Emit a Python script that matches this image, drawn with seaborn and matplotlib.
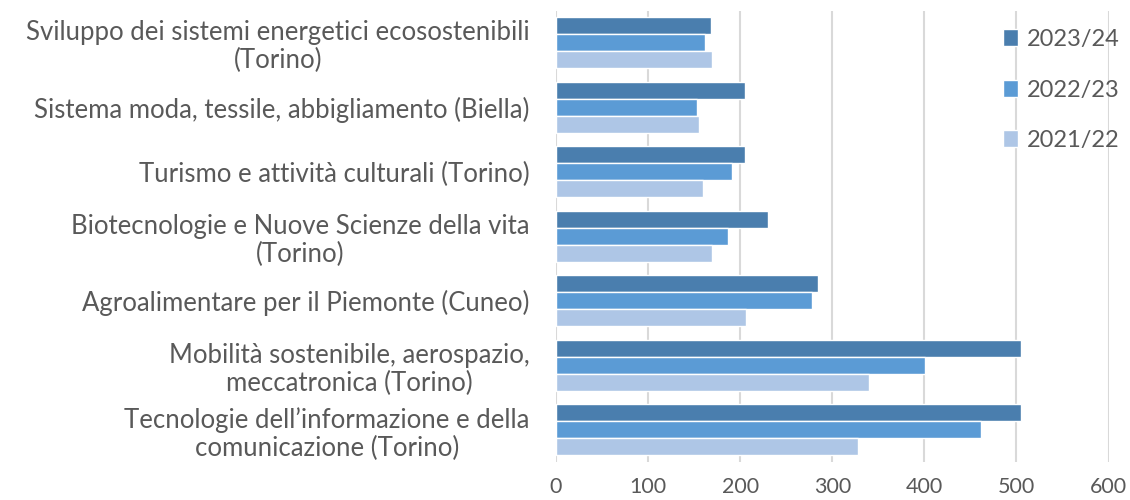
import numpy as np
import pandas as pd
import matplotlib
matplotlib.use("Agg")
import matplotlib.pyplot as plt
import seaborn as sns

# ======================= DATA ======================
categories = [
    "Sviluppo dei sistemi energetici ecosostenibili\n(Torino)",
    "Sistema moda, tessile, abbigliamento (Biella)",
    "Turismo e attività culturali (Torino)",
    "Biotecnologie e Nuove Scienze della vita\n(Torino)",
    "Agroalimentare per il Piemonte (Cuneo)",
    "Mobilità sostenibile, aerospazio,\nmeccatronica (Torino)",
    "Tecnologie dell\u2019informazione e della\ncomunicazione (Torino)",
]
years = ["2023/24", "2022/23", "2021/22"]
val_2023_24 = [168, 205, 205, 230, 285, 505, 505]
val_2022_23 = [162, 153, 191, 187, 278, 401, 461]
val_2021_22 = [169, 155, 160, 169, 206, 340, 328]
colors = ["#4a7eae", "#5b9bd5", "#aec6e6"]

df = pd.DataFrame({
    "Categoria": categories * 3,
    "Anno": np.repeat(years, len(categories)),
    "Valore": val_2023_24 + val_2022_23 + val_2021_22,
})

# ======================= PLOT ======================
sns.set_style("white")
plt.rcParams["font.family"] = ["Lato", "DejaVu Sans"]
text_col = "#595959"

fig = plt.figure(figsize=(11.3, 5), dpi=100)
ax = fig.add_axes([0.492, 0.076, 0.489, 0.903])

sns.barplot(data=df, y="Categoria", x="Valore", hue="Anno",
            hue_order=years, order=categories, palette=colors,
            orient="h", width=0.79, saturation=1, ax=ax, legend=True)

ax.set_xlim(0, 600)
ax.set_xticks(range(0, 601, 100))
ax.set_xlabel("")
ax.set_ylabel("")
ax.xaxis.grid(True, color="#d9d9d9", linewidth=1.5)
ax.set_axisbelow(True)
for s in ax.spines.values():
    s.set_visible(False)
ax.tick_params(axis="both", length=0, colors=text_col)
ax.tick_params(axis="x", pad=11, labelsize=15.5)
ax.tick_params(axis="y", pad=19, labelsize=18.5)
for lbl in ax.get_yticklabels():
    lbl.set_multialignment("center")
    lbl.set_linespacing(1.15)

# legend in the top-right corner, over the plot area
ax.legend(loc="upper left", bbox_to_anchor=(1003 / 1130, 1 - 29 / 500),
          bbox_transform=fig.transFigure, frameon=False,
          fontsize=17, labelcolor=text_col, handlelength=0.65,
          handleheight=0.75, handletextpad=0.35, labelspacing=1.25,
          borderaxespad=0, borderpad=0)

fig.savefig("out.png", dpi=100)
